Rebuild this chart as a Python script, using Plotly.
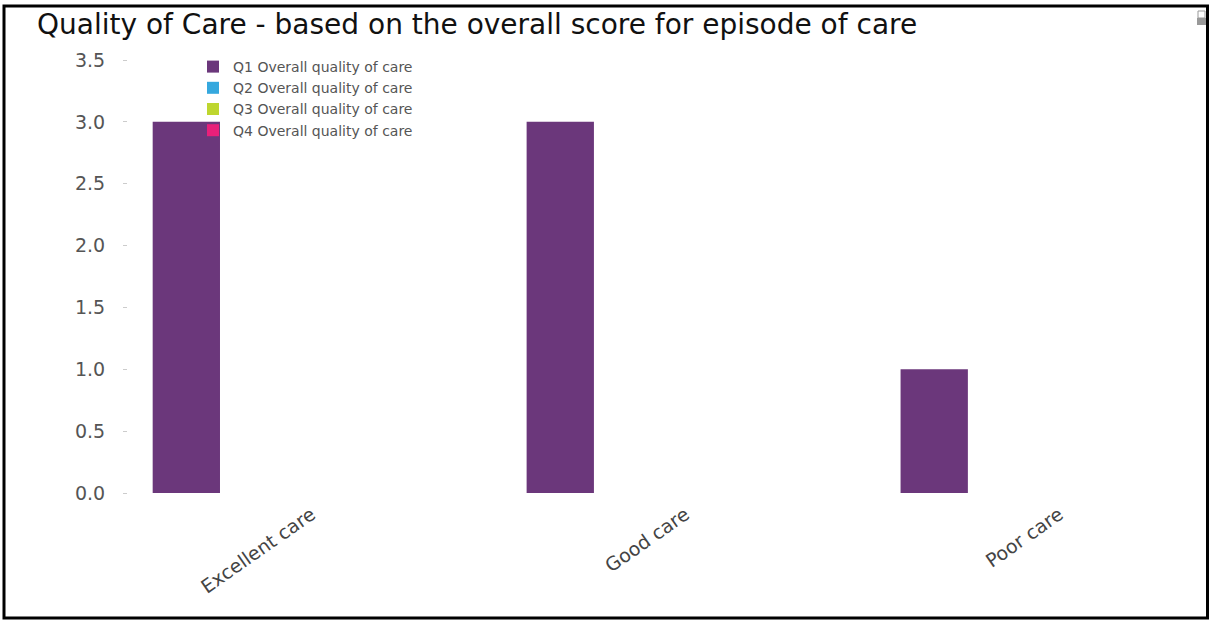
import plotly.graph_objects as go

categories = ["Excellent care", "Good care", "Poor care"]
series_names = ["Q1 Overall quality of care", "Q2 Overall quality of care",
                "Q3 Overall quality of care", "Q4 Overall quality of care"]
q1_values = [3, 3, 1]
q2_values = [None, None, None]
q3_values = [None, None, None]
q4_values = [None, None, None]
colors = ["#6B377B", "#35A8DE", "#BED62F", "#E8207A"]
y_ticks = [0.0, 0.5, 1.0, 1.5, 2.0, 2.5, 3.0, 3.5]

FONT = "DejaVu Sans, Liberation Sans, Arial, sans-serif"

fig = go.Figure()
for name, vals, col in zip(series_names, [q1_values, q2_values, q3_values, q4_values], colors):
    fig.add_trace(go.Bar(x=categories, y=vals, name=name, marker_color=col,
                         marker_line_width=0, width=0.18))

W, H = 1211, 621
L, R, T, B = 128, 21, 60, 128
pw, ph = W - L - R, H - T - B

def px_x(p):
    return (p - L) / pw

def px_y(p):
    return (H - B - p) / ph

fig.update_layout(
    width=W, height=H,
    margin=dict(l=L, r=R, t=T, b=B, autoexpand=False),
    paper_bgcolor="white", plot_bgcolor="white",
    barmode="overlay",
    font=dict(family=FONT, color="#555555"),
    title=dict(text="Quality of Care - based on the overall score for episode of care",
               x=37 / W, xanchor="left", y=1 - 24 / H, yanchor="middle",
               font=dict(family=FONT, size=28, color="#111111")),
    showlegend=True,
    legend=dict(x=px_x(193), y=px_y(51), xanchor="left", yanchor="top",
                bgcolor="rgba(0,0,0,0)", font=dict(family=FONT, size=14, color="#555555"),
                tracegroupgap=0, itemclick=False),
    xaxis=dict(type="category", range=[-0.156, 2.684], showgrid=False, zeroline=False,
               showline=False, ticks="", tickangle=-35,
               tickfont=dict(family=FONT, size=19, color="#444444"),
               ticklabelshift=125, ticklabelstandoff=6),
    yaxis=dict(range=[0, 3.5], tickvals=y_ticks, ticktext=[f"{v:.1f}" for v in y_ticks],
               showgrid=False, zeroline=False, showline=False,
               ticks="outside", ticklen=4, tickcolor="#cccccc", tickwidth=1,
               ticklabelstandoff=14,
               tickfont=dict(family=FONT, size=19, color="#555555")),
    shapes=[
        dict(type="rect", xref="paper", yref="paper",
             x0=px_x(4), x1=px_x(1207.5), y0=px_y(618), y1=px_y(6),
             line=dict(color="black", width=3), fillcolor="rgba(0,0,0,0)", layer="above"),
        dict(type="rect", xref="paper", yref="paper",
             x0=px_x(1197), x1=px_x(1206), y0=px_y(25), y1=px_y(18),
             line=dict(width=0), fillcolor="#999999"),
        dict(type="rect", xref="paper", yref="paper",
             x0=px_x(1198), x1=px_x(1205), y0=px_y(18), y1=px_y(11),
             line=dict(color="#999999", width=1), fillcolor="rgba(0,0,0,0)"),
    ],
)

fig.write_html("out.html", config={"displayModeBar": False})
